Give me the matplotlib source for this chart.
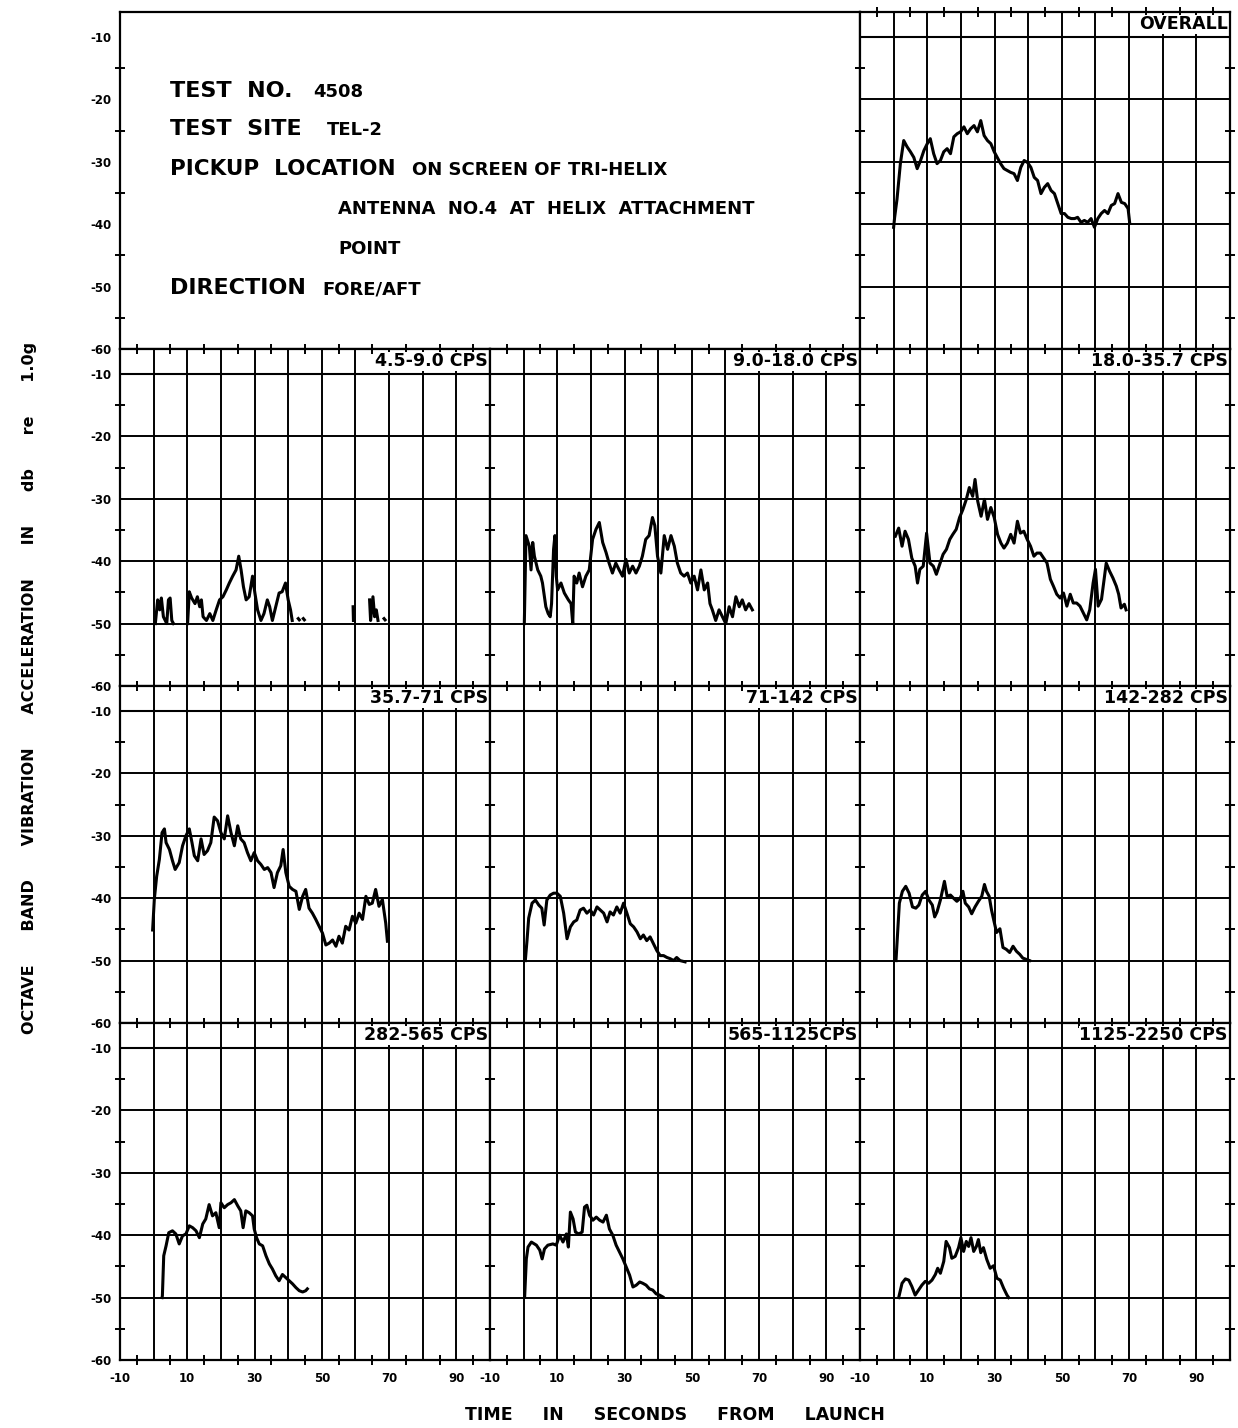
import matplotlib
matplotlib.use("Agg")
import matplotlib.pyplot as plt
from matplotlib.ticker import MultipleLocator

plt.rcParams["font.family"] = ["DejaVu Sans"]
plt.rcParams["font.weight"] = "bold"

# values: (time in s, level in dB re 1.0 g)
overall = [(0.0, -40.5), (0.3, -38.9), (1.0, -36.0), (2.0, -30.3), (3.0, -26.6), (4.0, -27.6),
           (5.0, -28.4), (6.0, -29.3), (7.0, -31.1), (8.0, -29.8), (9.0, -28.2), (10.0, -27.1),
           (10.9, -26.3), (11.9, -28.7), (12.9, -30.3), (13.9, -29.8), (14.9, -28.4), (15.9, -27.9),
           (16.9, -28.7), (17.9, -26.0), (18.9, -25.5), (19.9, -25.2), (20.9, -24.4), (21.9, -25.5),
           (22.9, -24.7), (23.9, -24.2), (24.9, -25.2), (25.9, -23.4), (26.9, -25.8), (27.9, -26.6),
           (28.9, -27.1), (29.9, -28.4), (30.8, -29.3), (31.8, -30.3), (32.8, -31.1), (33.8, -31.4),
           (34.8, -31.7), (35.8, -31.9), (36.8, -33.0), (37.8, -30.9), (38.8, -29.8), (39.8, -30.1),
           (40.8, -30.9), (41.8, -32.5), (42.8, -33.0), (43.8, -35.1), (44.8, -34.1), (45.8, -33.5),
           (46.8, -34.6), (47.8, -35.1), (48.8, -36.7), (49.8, -38.3), (50.8, -38.3), (51.8, -38.9),
           (52.8, -39.1), (53.8, -39.1), (54.7, -38.9), (55.7, -39.7), (56.7, -39.4), (57.7, -39.7),
           (58.7, -39.1), (59.7, -40.5), (60.7, -39.1), (61.7, -38.3), (62.7, -37.8), (63.7, -38.3),
           (64.7, -37.0), (65.7, -36.7), (66.7, -35.1), (67.7, -36.5), (68.7, -36.7), (69.7, -37.5),
           (70.2, -39.9)]

# the 4.5-9.0 cps trace is broken into pieces
band_4_5 = [
    [(0.5, -50.0), (1.2, -46.2), (1.8, -47.8), (2.3, -45.9), (2.9, -48.9), (3.9, -50.0),
     (4.4, -46.2), (4.9, -45.9), (5.4, -49.5), (5.9, -50.0)],
    [(10.1, -50.0), (10.6, -44.9), (11.3, -45.9), (12.3, -46.8), (13.0, -45.7), (13.7, -47.3),
     (14.2, -46.2), (14.7, -48.9), (15.7, -49.5), (16.7, -48.4), (17.6, -49.5), (18.6, -47.8),
     (19.6, -46.2), (20.6, -45.7), (21.6, -44.6), (22.5, -43.5), (23.5, -42.4), (24.5, -41.4),
     (25.3, -39.2), (26.0, -41.4), (26.7, -44.1), (27.5, -46.2), (28.4, -45.7), (29.4, -42.4),
     (30.1, -45.1), (30.9, -47.8), (31.9, -49.5), (32.8, -48.4), (33.8, -46.2), (34.5, -47.3),
     (35.3, -49.5), (36.3, -47.3), (37.3, -45.1), (38.2, -44.9), (39.2, -43.5), (40.0, -46.2),
     (40.7, -47.8), (41.2, -49.5)],
    [(43.0, -49.2), (43.3, -49.4)],
    [(44.5, -49.2), (44.8, -49.4)],
    [(59.3, -47.3), (59.4, -49.5)],
    [(64.2, -46.2), (64.5, -49.5), (65.2, -45.7), (65.7, -48.9), (66.2, -47.8), (66.7, -49.5)],
    [(68.5, -49.2), (68.8, -49.4)],
]

band_9_0 = [(0.2, -50.0), (0.7, -35.9), (1.7, -37.6), (2.2, -41.4), (2.7, -37.0), (3.2, -39.2),
            (4.2, -41.4), (5.1, -42.4), (5.6, -43.5), (6.6, -47.3), (7.3, -48.4), (7.9, -48.9),
            (8.3, -46.8), (8.9, -38.1), (9.3, -35.9), (9.7, -42.4), (10.1, -44.6), (11.1, -43.5),
            (12.1, -45.1), (13.3, -46.2), (14.1, -46.8), (14.6, -50.0), (15.0, -42.4), (15.8, -43.5),
            (16.5, -41.9), (17.5, -44.1), (18.5, -42.4), (19.5, -41.4), (20.5, -36.5), (21.5, -34.9),
            (22.5, -33.8), (23.5, -37.0), (24.5, -38.6), (25.4, -40.3), (26.4, -41.9), (27.4, -40.3),
            (28.4, -41.4), (29.4, -42.4), (30.4, -39.7), (31.4, -41.9), (32.4, -40.8), (33.4, -41.9),
            (34.4, -40.8), (35.3, -39.2), (36.3, -36.5), (37.3, -35.9), (38.3, -33.0), (39.0, -34.3),
            (39.8, -39.2), (40.8, -41.9), (41.8, -35.9), (42.8, -38.1), (43.8, -35.9), (44.8, -37.6),
            (45.7, -40.3), (46.7, -41.9), (47.7, -42.4), (48.7, -41.9), (49.7, -43.5), (50.7, -42.4),
            (51.7, -44.6), (52.7, -41.4), (53.7, -44.6), (54.7, -43.5), (55.4, -46.8), (56.1, -47.8),
            (57.1, -49.5), (58.1, -47.8), (59.1, -48.9), (60.1, -50.0), (61.1, -47.3), (62.1, -48.9),
            (63.1, -45.7), (64.1, -47.3), (65.0, -46.2), (66.0, -47.8), (67.0, -46.8), (68.0, -47.8)]

band_18_0 = [(0.5, -36.0), (1.5, -34.7), (2.5, -37.6), (3.4, -35.2), (4.4, -36.5), (5.4, -39.5),
             (6.4, -40.8), (7.1, -43.5), (7.8, -41.3), (8.8, -40.8), (9.8, -35.5), (10.8, -40.3),
             (11.8, -40.8), (12.7, -42.1), (13.7, -40.5), (14.7, -38.9), (15.7, -38.1), (16.7, -36.5),
             (17.6, -35.7), (18.6, -34.9), (19.6, -33.0), (20.6, -31.7), (21.6, -30.1), (22.5, -28.2),
             (23.5, -29.6), (24.2, -26.9), (25.0, -30.4), (26.0, -32.8), (27.0, -30.1), (27.9, -33.3),
             (28.9, -31.4), (29.9, -33.0), (30.9, -35.7), (31.9, -37.1), (32.8, -37.9), (33.8, -37.1),
             (34.8, -35.7), (35.8, -37.1), (36.8, -33.6), (37.7, -35.5), (38.7, -35.2), (39.7, -36.5),
             (40.7, -37.6), (41.7, -39.2), (42.6, -38.7), (43.6, -38.7), (44.6, -39.5), (45.6, -40.3),
             (46.6, -42.9), (47.5, -44.0), (48.5, -45.3), (49.5, -45.9), (50.5, -45.1), (51.5, -47.2),
             (52.5, -45.3), (53.4, -46.7), (54.4, -46.7), (55.4, -47.2), (56.4, -48.3), (57.4, -49.4),
             (58.3, -47.8), (59.3, -43.5), (60.0, -41.3), (60.8, -47.2), (61.8, -46.1), (62.7, -42.4),
             (63.2, -40.3), (64.2, -41.6), (65.2, -42.7), (66.2, -44.0), (66.9, -45.3), (67.6, -47.5),
             (68.6, -46.9), (69.1, -47.8)]

band_35_7 = [(-0.3, -45.1), (0.2, -40.2), (0.9, -36.5), (1.7, -33.8), (2.5, -29.5), (3.2, -28.9),
             (3.7, -31.1), (4.7, -32.2), (5.6, -34.0), (6.4, -35.4), (7.6, -34.3), (8.6, -31.6),
             (9.6, -30.0), (10.6, -28.9), (11.4, -31.1), (12.1, -33.2), (13.1, -34.0), (14.1, -30.5),
             (15.0, -33.0), (16.0, -32.4), (17.0, -31.1), (18.0, -27.0), (19.0, -27.6), (20.0, -29.5),
             (21.0, -30.5), (22.0, -26.8), (23.0, -29.5), (24.0, -31.6), (25.0, -28.4), (25.9, -30.5),
             (26.9, -31.1), (27.9, -32.7), (28.9, -34.0), (29.9, -32.7), (30.9, -34.0), (31.9, -34.6),
             (32.9, -35.4), (33.9, -35.1), (34.9, -35.9), (35.8, -38.3), (36.8, -35.9), (37.8, -34.8),
             (38.5, -32.2), (39.3, -35.9), (40.3, -38.1), (41.3, -38.6), (42.3, -38.9), (43.3, -41.8),
             (44.3, -39.7), (45.2, -38.6), (46.2, -41.6), (47.2, -42.4), (48.2, -43.4), (49.2, -44.5),
             (50.2, -45.6), (51.2, -47.5), (52.2, -47.2), (53.2, -46.7), (54.2, -47.7), (55.1, -46.1),
             (56.1, -47.2), (57.1, -44.5), (58.1, -45.1), (59.1, -42.9), (60.1, -44.0), (61.1, -42.4),
             (62.1, -43.4), (63.1, -39.7), (64.1, -41.0), (65.0, -40.8), (66.0, -38.6), (67.0, -41.3),
             (68.0, -40.2), (69.0, -44.0), (69.5, -46.9)]

band_71 = [(0.5, -50.0), (1.0, -46.8), (1.5, -43.2), (2.5, -40.8), (3.5, -40.3), (4.5, -41.1),
           (5.4, -41.6), (6.1, -44.3), (6.9, -40.3), (7.9, -39.5), (8.9, -39.2), (9.9, -39.2),
           (10.9, -39.7), (11.9, -42.4), (12.9, -46.5), (13.9, -44.6), (14.9, -43.8), (15.8, -43.5),
           (16.8, -41.9), (17.8, -41.6), (18.8, -42.4), (19.8, -41.9), (20.8, -42.7), (21.8, -41.4),
           (22.8, -41.9), (23.8, -42.4), (24.8, -43.8), (25.7, -42.2), (26.7, -42.7), (27.7, -41.4),
           (28.7, -42.4), (29.7, -40.8), (30.7, -42.4), (31.7, -44.1), (32.7, -44.6), (33.7, -45.4),
           (34.7, -46.5), (35.6, -45.9), (36.6, -46.8), (37.6, -46.2), (38.6, -47.3), (39.6, -48.4),
           (40.6, -49.2), (41.6, -49.2), (42.6, -49.5), (43.6, -49.7), (44.6, -50.0), (45.5, -49.5),
           (46.5, -50.0), (48.0, -50.2)]

band_142 = [(0.7, -50.0), (1.7, -40.8), (2.6, -38.9), (3.6, -38.1), (4.6, -39.2), (5.6, -41.4),
            (6.6, -41.6), (7.5, -41.1), (8.5, -39.5), (9.5, -38.9), (10.5, -40.3), (11.5, -41.1),
            (12.2, -43.0), (12.9, -42.2), (13.9, -40.3), (15.1, -37.3), (15.9, -39.7), (16.9, -39.5),
            (17.8, -40.0), (18.8, -40.5), (19.8, -40.0), (20.6, -38.9), (21.3, -40.8), (22.3, -41.4),
            (23.2, -42.5), (24.2, -41.4), (25.2, -40.5), (26.2, -39.7), (27.0, -37.8), (27.6, -38.9),
            (28.4, -39.7), (29.1, -41.9), (29.8, -43.6), (30.6, -45.5), (31.6, -44.9), (32.5, -47.9),
            (33.5, -48.2), (34.5, -48.7), (35.5, -47.7), (36.5, -48.5), (37.5, -49.0), (38.4, -49.6),
            (39.4, -49.8), (40.4, -50.0)]

band_282 = [(2.5, -50.0), (2.6, -49.7), (3.0, -43.3), (3.7, -41.7), (4.5, -39.6), (5.6, -39.3),
            (6.6, -39.8), (7.6, -41.4), (8.6, -40.1), (9.6, -39.8), (10.6, -38.5), (11.6, -38.8),
            (12.6, -39.3), (13.6, -40.4), (14.6, -38.2), (15.5, -37.4), (16.5, -35.1), (17.5, -36.9),
            (18.5, -36.4), (19.5, -38.8), (20.0, -34.8), (21.0, -35.6), (22.0, -35.1), (23.0, -34.8),
            (24.0, -34.3), (25.0, -35.3), (25.9, -36.1), (26.6, -38.8), (27.4, -36.1), (28.4, -36.4),
            (29.4, -36.9), (29.9, -39.0), (30.6, -40.4), (31.4, -41.4), (32.4, -41.7), (33.4, -43.3),
            (34.4, -44.6), (35.3, -45.4), (36.3, -46.5), (37.3, -47.3), (38.3, -46.3), (39.3, -46.8),
            (40.3, -47.3), (41.3, -47.8), (42.3, -48.4), (43.3, -48.9), (44.3, -49.1), (45.2, -48.9),
            (45.7, -48.6)]

band_565 = [(0.3, -49.9), (0.8, -43.8), (1.3, -41.9), (2.3, -41.1), (3.8, -41.6), (4.8, -42.4),
            (5.5, -43.8), (6.2, -42.2), (7.2, -41.6), (8.7, -41.4), (9.7, -41.6), (10.7, -40.0),
            (11.7, -41.1), (12.7, -39.8), (13.3, -41.9), (13.9, -36.3), (14.7, -37.4), (15.4, -39.5),
            (16.4, -39.8), (17.4, -39.5), (18.1, -35.5), (18.8, -35.2), (19.6, -36.8), (20.6, -37.6),
            (21.6, -37.1), (22.6, -37.6), (23.6, -37.9), (24.6, -36.8), (25.5, -39.0), (26.5, -40.0),
            (27.5, -41.6), (28.5, -42.7), (29.5, -43.8), (30.5, -45.1), (31.5, -46.4), (32.5, -48.3),
            (33.5, -48.0), (34.5, -47.5), (35.4, -47.7), (36.4, -48.0), (37.4, -48.6), (38.4, -48.8),
            (39.4, -49.4), (40.4, -49.6), (41.4, -49.9)]

band_1125 = [(1.5, -50.0), (2.5, -47.7), (3.5, -47.0), (4.5, -47.2), (5.4, -48.2), (6.4, -49.6),
             (7.4, -48.8), (8.4, -48.0), (9.4, -47.4), (10.4, -47.7), (11.4, -47.2), (12.4, -46.3),
             (13.1, -45.3), (13.9, -46.1), (14.9, -44.2), (15.6, -41.0), (16.6, -42.0), (17.3, -43.7),
             (18.3, -43.4), (19.3, -42.0), (20.0, -40.4), (20.8, -42.6), (21.6, -41.0), (22.3, -41.8),
             (23.0, -40.4), (23.8, -42.6), (24.6, -41.8), (25.2, -40.7), (25.9, -42.8), (26.7, -42.0),
             (27.7, -43.9), (28.7, -45.3), (29.7, -44.9), (30.7, -46.9), (31.7, -47.2), (32.7, -48.5),
             (33.7, -49.6), (34.2, -50.0)]

titles = ["OVERALL", "4.5-9.0 CPS", "9.0-18.0 CPS", "18.0-35.7 CPS",
          "35.7-71 CPS", "71-142 CPS", "142-282 CPS",
          "282-565 CPS", "565-1125CPS", "1125-2250 CPS"]

x_ticks = list(range(-10, 101, 10))
x_labels = ["-10", "", "10", "", "30", "", "50", "", "70", "", "90", ""]
y_ticks = [-60, -50, -40, -30, -20, -10]
y_labels = ["-60", "-50", "-40", "-30", "-20", "-10"]

FIG_W, FIG_H = 1238, 1428
LEFT, COL_W = 120, 370
TOP, ROW_H = 12, 337

fig = plt.figure(figsize=(FIG_W / 100, FIG_H / 100), dpi=100)


def make_axes(row, col, span=1):
    x0 = LEFT + col * COL_W
    y0 = TOP + row * ROW_H
    ax = fig.add_axes([x0 / FIG_W, 1 - (y0 + ROW_H) / FIG_H,
                       span * COL_W / FIG_W, ROW_H / FIG_H])
    ax.set_xlim(-10, 100)
    ax.set_ylim(-60, -6)
    for s in ax.spines.values():
        s.set_linewidth(1.6)
    ax.set_yticks(y_ticks)
    ax.set_yticklabels(y_labels if col == 0 else [])
    ax.yaxis.set_minor_locator(MultipleLocator(5))
    ax.tick_params(which="major", length=0, labelsize=8.5, pad=6)
    ax.tick_params(which="minor", direction="inout", length=7, width=1.4,
                   left=True, right=True)
    return ax


def make_panel(row, col, title):
    ax = make_axes(row, col)
    ax.set_xticks(x_ticks)
    ax.set_xticklabels(x_labels if row == 3 else [])
    ax.xaxis.set_minor_locator(MultipleLocator(5))
    ax.tick_params(which="minor", top=True, bottom=True)
    ax.tick_params(axis="x", which="major", pad=9)
    ax.grid(True, which="major", color="black", linewidth=1.4)
    ax.axhline(-10, color="black", linewidth=1.5, zorder=2.45)
    ax.text(99.3, -8, title, ha="right", va="center", fontsize=12.5, zorder=2.4,
            bbox=dict(facecolor="white", edgecolor="none", pad=0.3))
    return ax


def draw(ax, pts):
    xs = [p[0] for p in pts]
    ys = [p[1] for p in pts]
    ax.plot(xs, ys, color="black", linewidth=2.2, solid_joinstyle="round", zorder=3)


# header box in place of the two top-left panels
box = make_axes(0, 0, span=2)
box.set_xticks([])


def px_text(x, y, s, size):
    fig.text(x / FIG_W, 1 - y / FIG_H, s, fontsize=size, ha="left", va="center")


px_text(170, 91, "TEST  NO.", 16)
px_text(313, 92, "4508", 13)
px_text(170, 129, "TEST  SITE", 16)
px_text(327, 130, "TEL-2", 13)
px_text(170, 169, "PICKUP  LOCATION", 15.5)
px_text(412, 170, "ON SCREEN OF TRI-HELIX", 13)
px_text(338, 209, "ANTENNA  NO.4  AT  HELIX  ATTACHMENT", 13)
px_text(338, 249, "POINT", 13)
px_text(170, 288, "DIRECTION", 16)
px_text(322, 289, "FORE/AFT", 13)

panels = [(0, 2, overall), (1, 0, None), (1, 1, band_9_0), (1, 2, band_18_0),
          (2, 0, band_35_7), (2, 1, band_71), (2, 2, band_142),
          (3, 0, band_282), (3, 1, band_565), (3, 2, band_1125)]

for (row, col, pts), title in zip(panels, titles):
    ax = make_panel(row, col, title)
    if pts is None:
        for seg in band_4_5:
            draw(ax, seg)
    else:
        draw(ax, pts)

fig.text(30 / FIG_W, 1 - 688 / FIG_H,
         "OCTAVE      BAND      VIBRATION      ACCELERATION      IN      db      re      1.0g",
         rotation=90, ha="center", va="center", fontsize=11.5)
fig.text(675 / FIG_W, 1 - 1415 / FIG_H,
         "TIME     IN     SECONDS     FROM     LAUNCH",
         ha="center", va="center", fontsize=12.5)

fig.savefig("out.png", dpi=100, facecolor="white")
